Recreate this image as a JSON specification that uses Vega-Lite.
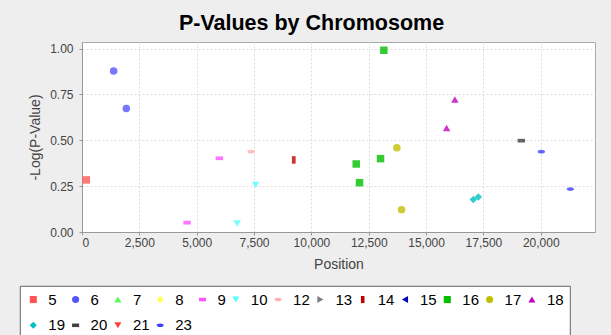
{
  "$schema": "https://vega.github.io/schema/vega-lite/v6.json",
  "width": 513,
  "height": 190,
  "autosize": {"type": "none"},
  "padding": {"left": 82, "top": 42, "right": 16, "bottom": 103},
  "background": "#EEEEEE",
  "title": {
    "text": "P-Values by Chromosome",
    "font": "Liberation Sans",
    "fontSize": 21.5,
    "fontWeight": "bold",
    "color": "#000000",
    "anchor": "middle",
    "dx": -27,
    "offset": 8
  },
  "config": {
    "font": "Liberation Sans",
    "view": {"fill": "white", "stroke": "#aaaaaa"}
  },
  "data": {
    "values": [
      {"chrom": "5", "position": 188, "value": 0.284},
      {"chrom": "6", "position": 1379, "value": 0.878},
      {"chrom": "6", "position": 1933, "value": 0.674},
      {"chrom": "9", "position": 4581, "value": 0.051},
      {"chrom": "9", "position": 5990, "value": 0.402},
      {"chrom": "10", "position": 6763, "value": 0.046},
      {"chrom": "10", "position": 7574, "value": 0.257},
      {"chrom": "12", "position": 7373, "value": 0.438},
      {"chrom": "14", "position": 9232, "value": 0.393},
      {"chrom": "16", "position": 13159, "value": 0.991},
      {"chrom": "16", "position": 11955, "value": 0.371},
      {"chrom": "16", "position": 12099, "value": 0.269},
      {"chrom": "16", "position": 13015, "value": 0.400},
      {"chrom": "17", "position": 13726, "value": 0.460},
      {"chrom": "17", "position": 13931, "value": 0.122},
      {"chrom": "18", "position": 16257, "value": 0.722},
      {"chrom": "18", "position": 15895, "value": 0.567},
      {"chrom": "19", "position": 17059, "value": 0.177},
      {"chrom": "19", "position": 17277, "value": 0.191},
      {"chrom": "20", "position": 19154, "value": 0.498},
      {"chrom": "23", "position": 20026, "value": 0.438},
      {"chrom": "23", "position": 21291, "value": 0.234}
    ]
  },
  "mark": {"type": "point", "filled": true, "opacity": 0.8, "size": 56},
  "encoding": {
    "x": {
      "field": "position",
      "type": "quantitative",
      "scale": {"domain": [0, 22365], "nice": false, "zero": false},
      "axis": {
        "title": "Position",
        "values": [0, 2500, 5000, 7500, 10000, 12500, 15000, 17500, 20000],
        "format": ",.0f",
        "labelFontSize": 12,
        "labelColor": "#444444",
        "labelPadding": 2,
        "tickSize": 3,
        "tickColor": "#999999",
        "domainColor": "#999999",
        "grid": true,
        "gridColor": "#dddddd",
        "gridDash": [2, 2],
        "titleFontSize": 14,
        "titleFontWeight": "normal",
        "titleColor": "#444444",
        "titlePadding": 9
      }
    },
    "y": {
      "field": "value",
      "type": "quantitative",
      "scale": {"domain": [0, 1.036], "nice": false, "zero": false},
      "axis": {
        "title": "-Log(P-Value)",
        "values": [0, 0.25, 0.5, 0.75, 1.0],
        "format": ".2f",
        "labelFontSize": 12,
        "labelColor": "#444444",
        "labelPadding": 6,
        "tickSize": 3,
        "tickColor": "#999999",
        "domainColor": "#999999",
        "grid": true,
        "gridColor": "#dddddd",
        "gridDash": [2, 2],
        "titleFontSize": 14,
        "titleFontWeight": "normal",
        "titleColor": "#444444",
        "titlePadding": 7
      }
    },
    "color": {
      "field": "chrom",
      "type": "nominal",
      "scale": {
        "domain": ["5", "6", "7", "8", "9", "10", "12", "13", "14", "15", "16", "17", "18", "19", "20", "21", "23"],
        "range": ["#FF5555", "#5555FF", "#55FF55", "#FFFF55", "#FF55FF", "#55FFFF", "#FFAFAF", "#808080", "#C00000", "#0000C0", "#00C000", "#C0C000", "#C000C0", "#00C0C0", "#404040", "#FF4040", "#4040FF"]
      },
      "legend": {
        "title": null,
        "orient": "none",
        "legendX": -62.2,
        "legendY": 243.8,
        "direction": "horizontal",
        "columns": 13,
        "padding": 6,
        "fillColor": "white",
        "strokeColor": "#666666",
        "labelFontSize": 15,
        "labelColor": "#000000",
        "labelOffset": 7.5,
        "columnPadding": 2.3,
        "rowPadding": 10,
        "symbolSize": 50,
        "symbolOpacity": 1,
        "symbolStrokeWidth": 0
      }
    },
    "shape": {
      "field": "chrom",
      "type": "nominal",
      "scale": {
        "domain": ["5", "6", "7", "8", "9", "10", "12", "13", "14", "15", "16", "17", "18", "19", "20", "21", "23"],
        "range": ["square", "circle", "triangle-up", "diamond", "M-1,-0.5H1V0.5H-1Z", "triangle-down", "M-1,0A1,0.5 0 1,1 1,0A1,0.5 0 1,1 -1,0Z", "triangle-right", "M-0.5,-1H0.5V1H-0.5Z", "triangle-left", "square", "circle", "triangle-up", "diamond", "M-1,-0.5H1V0.5H-1Z", "triangle-down", "M-1,0A1,0.5 0 1,1 1,0A1,0.5 0 1,1 -1,0Z"]
      },
      "legend": {
        "title": null,
        "orient": "none",
        "legendX": -62.2,
        "legendY": 243.8,
        "direction": "horizontal",
        "columns": 13,
        "padding": 6,
        "fillColor": "white",
        "strokeColor": "#666666",
        "labelFontSize": 15,
        "labelColor": "#000000",
        "labelOffset": 7.5,
        "columnPadding": 2.3,
        "rowPadding": 10,
        "symbolSize": 50,
        "symbolOpacity": 1,
        "symbolStrokeWidth": 0
      }
    }
  }
}
